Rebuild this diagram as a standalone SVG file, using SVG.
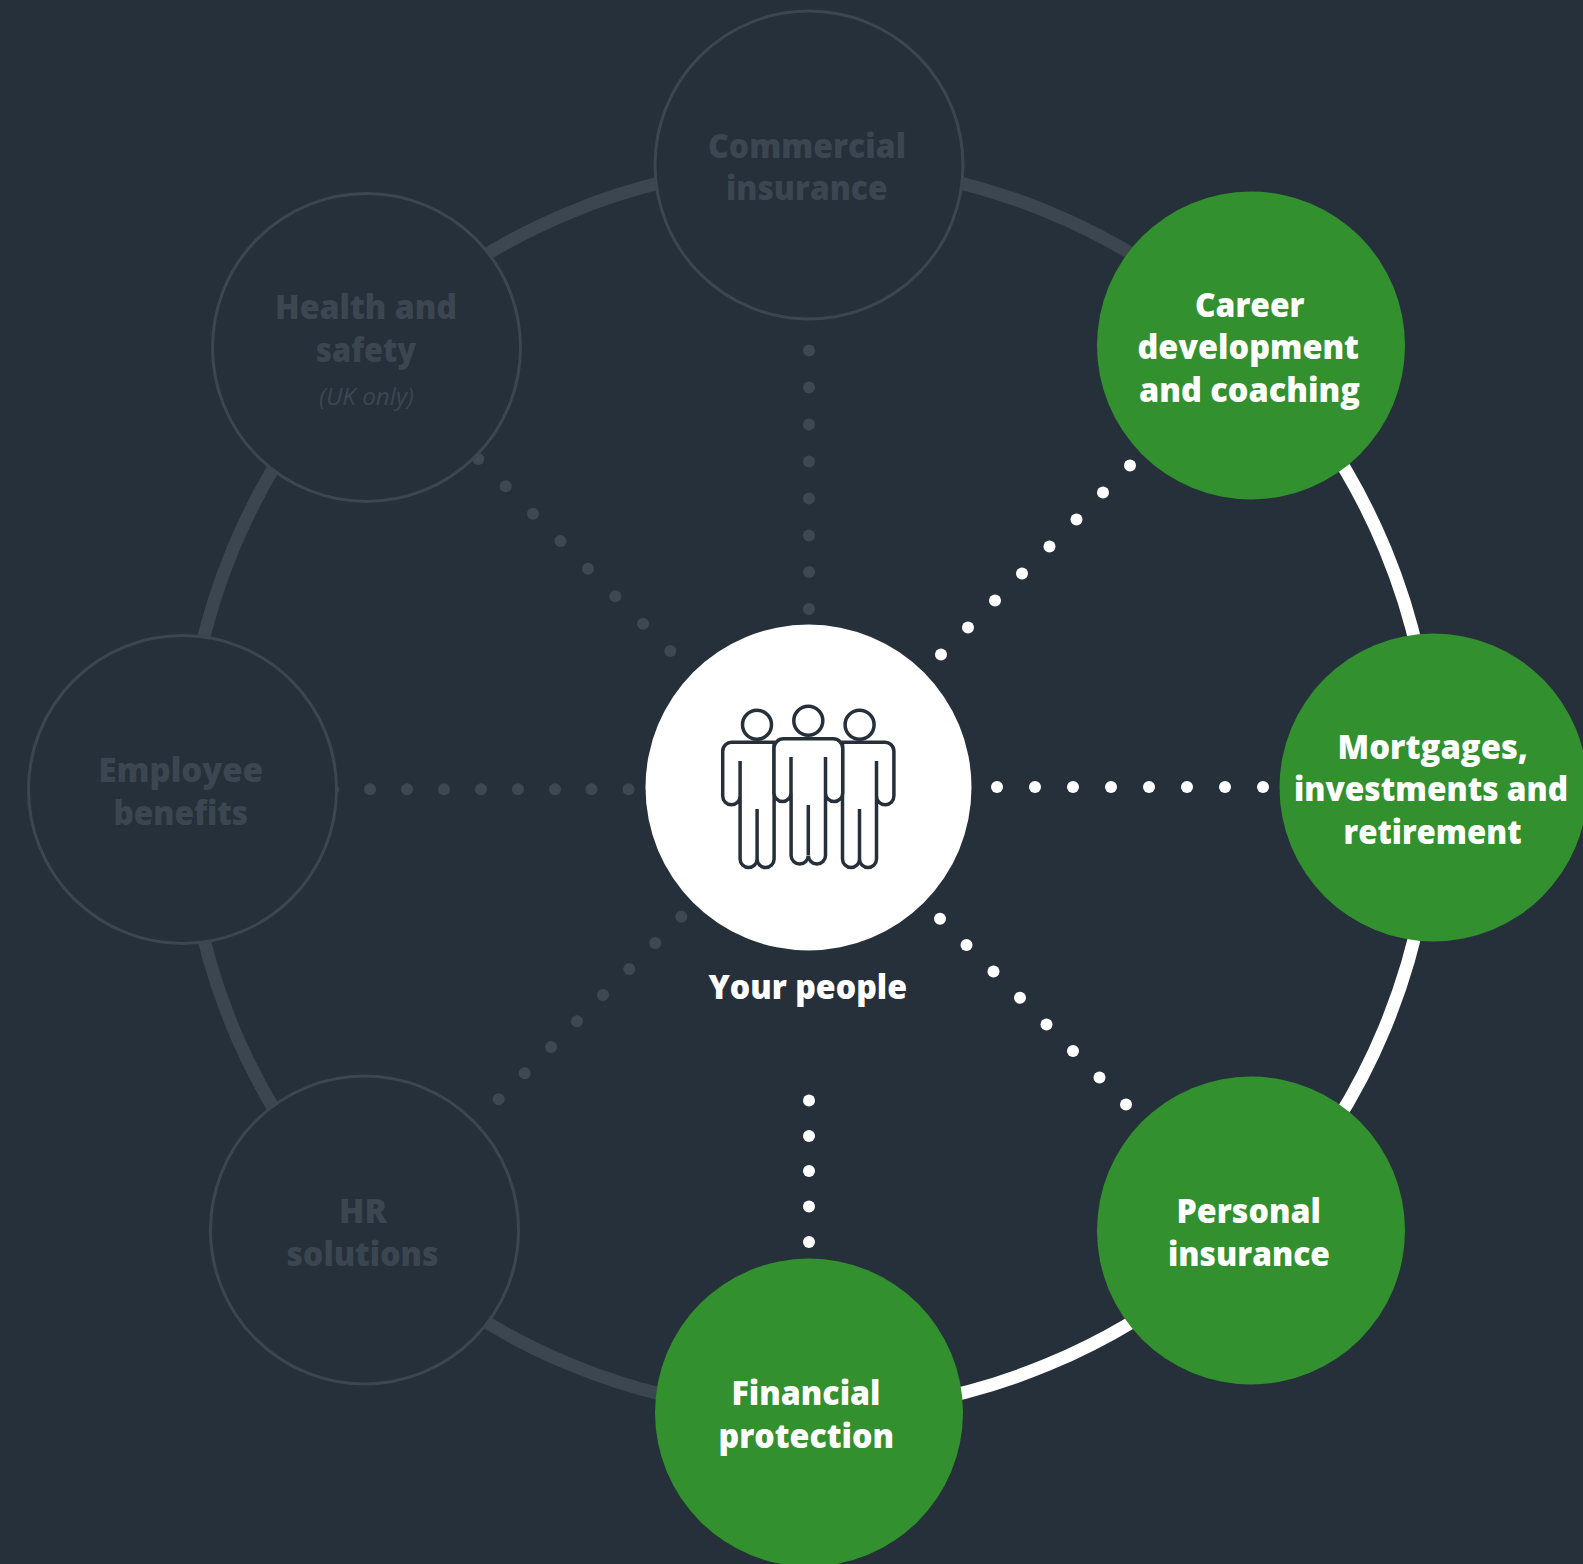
<svg xmlns="http://www.w3.org/2000/svg" xmlns:xlink="http://www.w3.org/1999/xlink" width="1583" height="1564" viewBox="0 0 1583 1564">
<style>
.t{font-family:"Open Sans","Noto Sans",sans-serif;font-weight:800;font-size:34px}
.w{fill:#fff}.d{fill:#3b4651}
.it{font-family:"Open Sans","Noto Sans",sans-serif;font-style:italic;font-size:24px;fill:#3b4651}
.nd{fill:#26303a;stroke:#3b4651;stroke-width:3}
.ng{fill:#32902f}
.arc{fill:none;stroke-width:13}
.dd circle{fill:#3e4853}.wd circle{fill:#fff}
.ic{fill:none;stroke:#26303a;stroke-width:3.500;stroke-linecap:butt}
</style>
<defs>
<g id="side" class="ic">
<circle cx="757" cy="724.7" r="14.5" fill="#fff"/>
<path d="M775 742.3H732a9 9 0 0 0-9.300 9V796a8.700 8.700 0 0 0 17.400 0V761M740.100 796V859a8.500 8.500 0 0 0 17 0a8.500 8.500 0 0 0 17 0V742M757.100 859V809"/>
</g>
</defs>
<rect width="1583" height="1564" fill="#26303a"/>
<g id="connectors">
<g id="ring">
<path class="arc" stroke="#3b4651" d="M1251 347A623.500 623.500 0 0 0 809 165A623.500 623.500 0 0 0 368 347A623.500 623.500 0 0 0 185.500 788.500A623.500 623.500 0 0 0 368 1229.500A623.500 623.500 0 0 0 809 1412"/>
<path class="arc" stroke="#fff" d="M809 1412A623.500 623.500 0 0 0 1250 1229.500A623.500 623.500 0 0 0 1432.500 788.500A623.500 623.500 0 0 0 1250 347"/>
</g>
<g class="dd">
<circle cx="809" cy="350.500" r="6"/><circle cx="809" cy="387.500" r="6"/><circle cx="809" cy="424.500" r="6"/><circle cx="809" cy="461.500" r="6"/><circle cx="809" cy="498.500" r="6"/><circle cx="809" cy="535.500" r="6"/><circle cx="809" cy="572" r="6"/><circle cx="809" cy="609" r="6"/>
<circle cx="333" cy="789.300" r="6"/><circle cx="370" cy="789.300" r="6"/><circle cx="407" cy="789.300" r="6"/><circle cx="444" cy="789.300" r="6"/><circle cx="481" cy="789.300" r="6"/><circle cx="518" cy="789.300" r="6"/><circle cx="555" cy="789.300" r="6"/><circle cx="591.500" cy="789.300" r="6"/><circle cx="628.500" cy="789.300" r="6"/>
<circle cx="478.300" cy="459" r="6"/><circle cx="505.700" cy="486.300" r="6"/><circle cx="533" cy="513.700" r="6"/><circle cx="560.500" cy="541" r="6"/><circle cx="588" cy="568.700" r="6"/><circle cx="615.300" cy="596.300" r="6"/><circle cx="643" cy="623.700" r="6"/><circle cx="670.300" cy="651" r="6"/>
<circle cx="681.300" cy="916.700" r="6"/><circle cx="655.300" cy="943" r="6"/><circle cx="629.300" cy="969" r="6"/><circle cx="603" cy="995" r="6"/><circle cx="577" cy="1021.300" r="6"/><circle cx="551" cy="1047" r="6"/><circle cx="524.700" cy="1073.300" r="6"/><circle cx="498.700" cy="1099.300" r="6"/>
</g>
<g class="wd">
<circle cx="997" cy="787" r="6"/><circle cx="1035" cy="787" r="6"/><circle cx="1073" cy="787" r="6"/><circle cx="1111" cy="787" r="6"/><circle cx="1149" cy="787" r="6"/><circle cx="1187" cy="787" r="6"/><circle cx="1225" cy="787" r="6"/><circle cx="1263" cy="787" r="6"/>
<circle cx="941" cy="654.500" r="6"/><circle cx="968" cy="627.500" r="6"/><circle cx="995" cy="600.500" r="6"/><circle cx="1022" cy="573.500" r="6"/><circle cx="1049.500" cy="546.500" r="6"/><circle cx="1076.500" cy="519.500" r="6"/><circle cx="1103" cy="492.500" r="6"/><circle cx="1130" cy="465.500" r="6"/>
<circle cx="940" cy="918.700" r="6"/><circle cx="966.500" cy="945" r="6"/><circle cx="993.500" cy="971.500" r="6"/><circle cx="1020" cy="997.700" r="6"/><circle cx="1046.500" cy="1024.500" r="6"/><circle cx="1073" cy="1051" r="6"/><circle cx="1099.500" cy="1077.500" r="6"/><circle cx="1126" cy="1104.500" r="6"/>
<circle cx="809" cy="1100.500" r="6"/><circle cx="809" cy="1136" r="6"/><circle cx="809" cy="1171" r="6"/><circle cx="809" cy="1206.500" r="6"/><circle cx="809" cy="1242" r="6"/>
</g>
</g>
<g id="commercial"><circle class="nd" cx="809" cy="165" r="154"/>
<text class="t d" x="708" y="157.500" textLength="198" lengthAdjust="spacingAndGlyphs">Commercial</text>
<text class="t d" x="726" y="200" textLength="161.500" lengthAdjust="spacingAndGlyphs">insurance</text></g>
<g id="health"><circle class="nd" cx="366.500" cy="347.500" r="154"/>
<text class="t d" x="275" y="319" textLength="182" lengthAdjust="spacingAndGlyphs">Health and</text>
<text class="t d" x="316" y="361.500" textLength="100" lengthAdjust="spacingAndGlyphs">safety</text>
<text class="it" x="319" y="404.500" textLength="95" lengthAdjust="spacingAndGlyphs">(UK only)</text></g>
<g id="employee"><circle class="nd" cx="182.500" cy="789.500" r="154"/>
<text class="t d" x="98.500" y="782" textLength="164.500" lengthAdjust="spacingAndGlyphs">Employee</text>
<text class="t d" x="113.500" y="825" textLength="134.500" lengthAdjust="spacingAndGlyphs">benefits</text></g>
<g id="hr"><circle class="nd" cx="364.500" cy="1230" r="154"/>
<text class="t d" x="339" y="1223" textLength="48" lengthAdjust="spacingAndGlyphs">HR</text>
<text class="t d" x="286.500" y="1265.500" textLength="152" lengthAdjust="spacingAndGlyphs">solutions</text></g>
<g id="financial"><circle class="ng" cx="809" cy="1412.500" r="154"/>
<text class="t w" x="731.500" y="1405" textLength="149" lengthAdjust="spacingAndGlyphs">Financial</text>
<text class="t w" x="718.500" y="1448" textLength="175.500" lengthAdjust="spacingAndGlyphs">protection</text></g>
<g id="personal"><circle class="ng" cx="1251" cy="1230.500" r="154"/>
<text class="t w" x="1176.500" y="1223" textLength="144.500" lengthAdjust="spacingAndGlyphs">Personal</text>
<text class="t w" x="1168" y="1265.500" textLength="162" lengthAdjust="spacingAndGlyphs">insurance</text></g>
<g id="mortgages"><circle class="ng" cx="1433.500" cy="787.500" r="154"/>
<text class="t w" x="1337.500" y="759" textLength="190.500" lengthAdjust="spacingAndGlyphs">Mortgages,</text>
<text class="t w" x="1294" y="801" textLength="274" lengthAdjust="spacingAndGlyphs" style="font-size:33px">investments and</text>
<text class="t w" x="1343.500" y="844" textLength="178" lengthAdjust="spacingAndGlyphs">retirement</text></g>
<g id="career"><circle class="ng" cx="1251" cy="345.500" r="154"/>
<text class="t w" x="1195" y="317" textLength="109.500" lengthAdjust="spacingAndGlyphs">Career</text>
<text class="t w" x="1137.500" y="359" textLength="221.500" lengthAdjust="spacingAndGlyphs">development</text>
<text class="t w" x="1139" y="402" textLength="221" lengthAdjust="spacingAndGlyphs">and coaching</text></g>
<g id="your-people"><circle cx="808.500" cy="787.500" r="163" fill="#fff"/>
<use xlink:href="#side"/>
<use xlink:href="#side" transform="translate(1616.600 0) scale(-1 1)"/>
<g class="ic"><circle cx="808.300" cy="720.700" r="14.500" fill="#fff"/>
<path fill="#fff" d="M783.500 738.700H833a9.500 9.500 0 0 1 9.700 9.500V793a8.600 8.600 0 0 1-17.200 0V757M825.500 793V855.500a8.600 8.600 0 0 1-17.200 0a8.600 8.600 0 0 1-17.200 0V793M791 757V793a8.400 8.400 0 0 1-17 0V748a9.500 9.500 0 0 1 9.500-9.300M808.300 855V805"/></g>
<text class="t" x="708.500" y="999" textLength="198.500" lengthAdjust="spacingAndGlyphs" fill="#fff">Your people</text></g>
</svg>
